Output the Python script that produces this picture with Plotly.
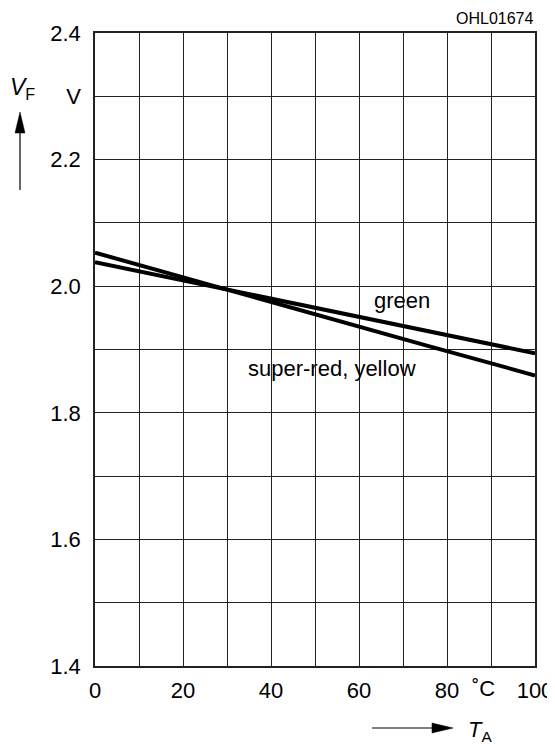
import plotly.graph_objects as go

# Data
temp_c = [0, 25, 50, 75, 100]
vf_super_red_yellow = [2.053, 2.004, 1.956, 1.907, 1.859]
vf_green = [2.038, 2.002, 1.966, 1.930, 1.894]

x_tick_vals = [0, 10, 20, 30, 40, 50, 60, 70, 80, 90, 100]
x_tick_text = ["0", "", "20", "", "40", "", "60", "", "80", "", "100"]
y_tick_vals = [1.4, 1.5, 1.6, 1.7, 1.8, 1.9, 2.0, 2.1, 2.2, 2.3, 2.4]
y_tick_text = ["1.4", "", "1.6", "", "1.8", "", "2.0", "", "2.2", "V", "2.4"]

FONT = "Liberation Sans, Arial, sans-serif"
FS = 22

# page body has an 8px margin; plot area target: x 95..535, y 33..666 (page px)
PX0, PX1, PY0, PY1 = 95, 535, 33, 666


def px(xp):
    return (xp - PX0) / (PX1 - PX0)


def py(yp):
    return (PY1 - yp) / (PY1 - PY0)


fig = go.Figure()
fig.add_trace(go.Scatter(x=temp_c, y=vf_super_red_yellow, mode="lines",
                         line=dict(color="black", width=4), showlegend=False))
fig.add_trace(go.Scatter(x=temp_c, y=vf_green, mode="lines",
                         line=dict(color="black", width=4), showlegend=False))

fig.update_layout(
    width=547, height=739,
    margin=dict(l=87, r=20, t=25, b=81, autoexpand=False),
    plot_bgcolor="white", paper_bgcolor="white",
    font=dict(family=FONT, size=FS, color="black"),
    xaxis=dict(range=[0, 100], tickvals=x_tick_vals, ticktext=x_tick_text,
               showgrid=True, gridcolor="#222", gridwidth=1,
               showline=True, linecolor="#222", linewidth=1.5, mirror=True,
               ticks="", ticklabelstandoff=4, zeroline=False, automargin=False,
               tickfont=dict(family=FONT, size=FS)),
    yaxis=dict(range=[1.4, 2.4], tickvals=y_tick_vals, ticktext=y_tick_text,
               showgrid=True, gridcolor="#222", gridwidth=1,
               showline=True, linecolor="#222", linewidth=1.5, mirror=True,
               ticks="", ticklabelstandoff=8, zeroline=False, automargin=False,
               tickfont=dict(family=FONT, size=FS)),
)

# Curve labels
fig.add_annotation(x=69.7, y=1.977, text="green", showarrow=False,
                   font=dict(family=FONT, size=FS))
fig.add_annotation(x=53.8, y=1.870, text="super-red, yellow", showarrow=False,
                   font=dict(family=FONT, size=FS))

# Unit °C
fig.add_annotation(xref="paper", yref="paper", x=px(470), y=py(689),
                   xanchor="left", yanchor="middle",
                   text="˚C", showarrow=False, font=dict(family=FONT, size=FS))

# Code label
fig.add_annotation(xref="paper", yref="paper", x=1.0, y=py(18),
                   text="OHL01674", showarrow=False, xanchor="right", yanchor="middle",
                   font=dict(family=FONT, size=16))

# Y axis title
fig.add_annotation(xref="paper", yref="paper", x=px(8), y=py(88),
                   xanchor="left", yanchor="middle",
                   text="<i>V</i><sub>F</sub>", showarrow=False,
                   font=dict(family=FONT, size=23))
# X axis title
fig.add_annotation(xref="paper", yref="paper", x=px(466), y=py(731),
                   xanchor="left", yanchor="middle",
                   text="<i>T</i><sub>A</sub>", showarrow=False,
                   font=dict(family=FONT, size=FS))

# Arrows (drawn as shapes in paper coordinates)
arrow_line = dict(color="black", width=1.2)
fig.add_shape(type="line", xref="paper", yref="paper",
              x0=px(20), y0=py(190), x1=px(20), y1=py(128), line=arrow_line)
fig.add_shape(type="path", xref="paper", yref="paper",
              path=f"M {px(20)} {py(112)} L {px(15)} {py(133)} L {px(25)} {py(133)} Z",
              fillcolor="black", line=dict(color="black", width=0.5))
fig.add_shape(type="line", xref="paper", yref="paper",
              x0=px(372), y0=py(728), x1=px(438), y1=py(728), line=arrow_line)
fig.add_shape(type="path", xref="paper", yref="paper",
              path=f"M {px(453)} {py(728)} L {px(432)} {py(723)} L {px(432)} {py(733)} Z",
              fillcolor="black", line=dict(color="black", width=0.5))

fig.write_html("out.html")
